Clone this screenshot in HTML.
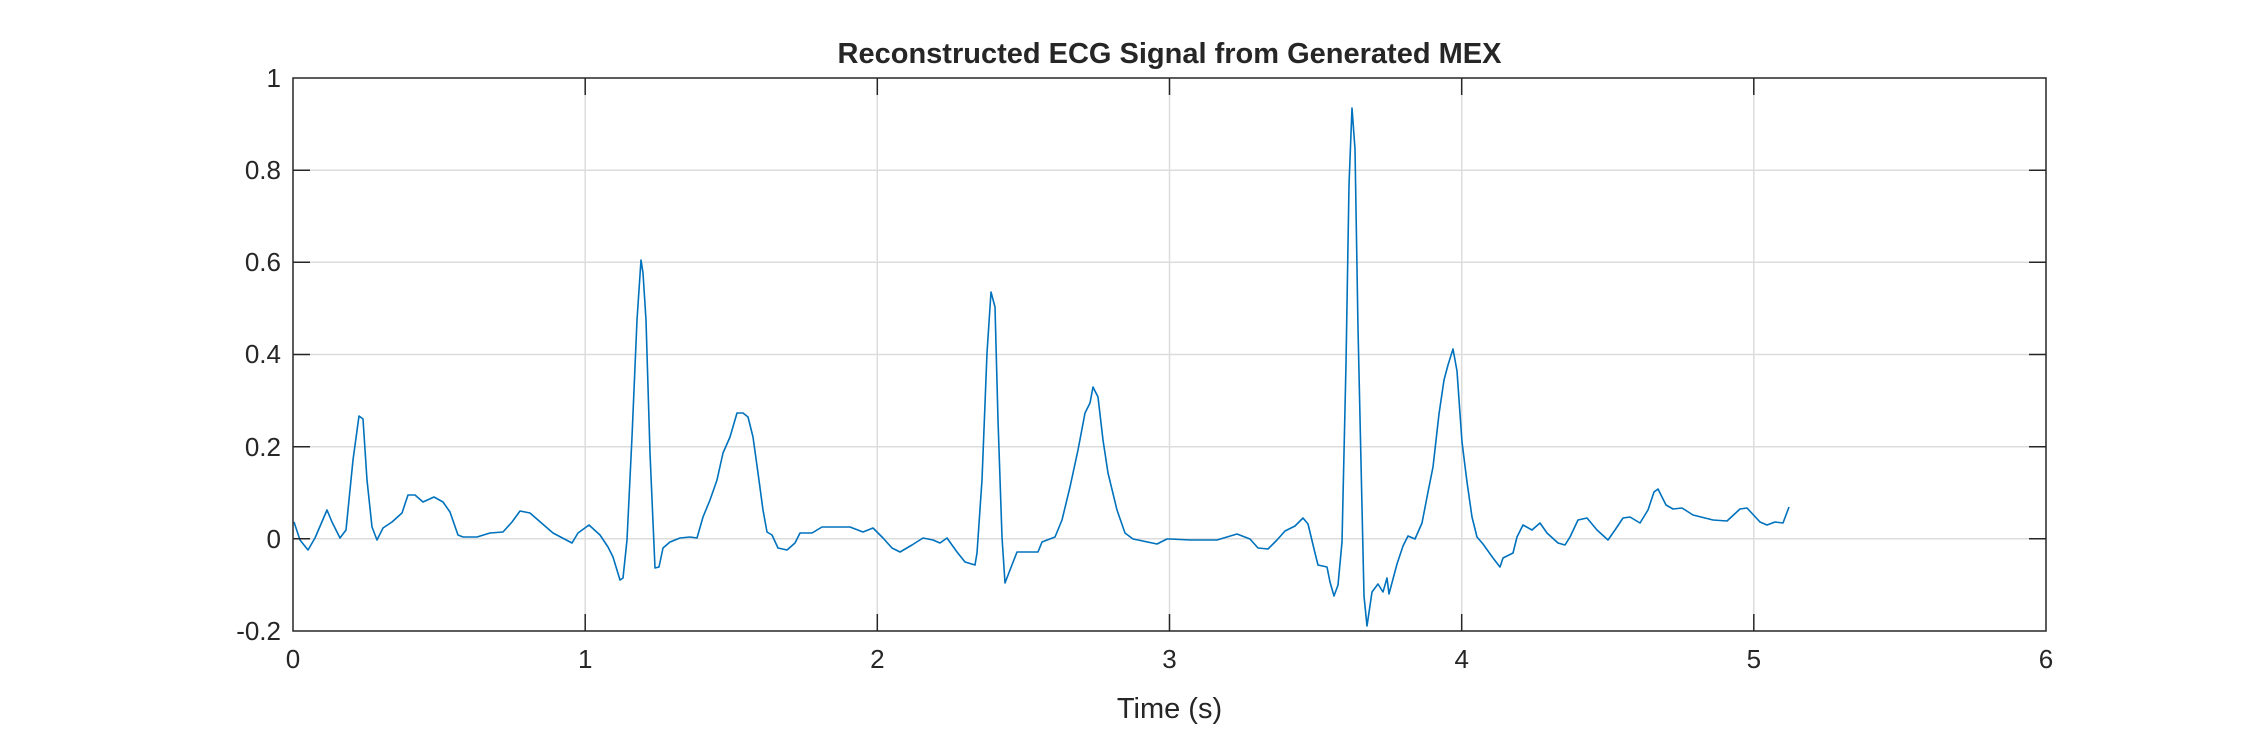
<!DOCTYPE html>
<html><head><meta charset="utf-8"><style>
html,body{margin:0;padding:0;background:#fff;}
svg{display:block;}
text{font-family:"Liberation Sans",Arial,sans-serif;fill:#262626;}
</style></head><body>
<svg width="2261" height="754" viewBox="0 0 2261 754" xmlns="http://www.w3.org/2000/svg">
<rect width="2261" height="754" fill="#fff"/>
<g stroke="#dcdcdc" stroke-width="1.5">
<line x1="585.2" y1="78" x2="585.2" y2="631"/>
<line x1="877.3" y1="78" x2="877.3" y2="631"/>
<line x1="1169.5" y1="78" x2="1169.5" y2="631"/>
<line x1="1461.7" y1="78" x2="1461.7" y2="631"/>
<line x1="1753.8" y1="78" x2="1753.8" y2="631"/>
<line x1="293" y1="170.2" x2="2046" y2="170.2"/>
<line x1="293" y1="262.3" x2="2046" y2="262.3"/>
<line x1="293" y1="354.5" x2="2046" y2="354.5"/>
<line x1="293" y1="446.7" x2="2046" y2="446.7"/>
<line x1="293" y1="538.8" x2="2046" y2="538.8"/>
</g>
<polyline fill="none" stroke="#0072BD" stroke-width="1.6" stroke-linejoin="round" points="
294,522 300,540 308,550 315,538 327,510 332,522 340,538 346,530 353,460 359,416 363,419 367,480 372,527 377,540 383,528 392,522 402,513 408,495 415,495 423,502 434,497 443,502 450,512 458,535 463,537 477,537 490,533 503,532 512,522 520,511 530,513 538,520 553,533 572,543 578,533 589,525 600,535 608,547 613,557 620,580 623,578 627,540 632,437 637,320 641,260 643,273 646,320 650,453 655,568 659,567 663,548 670,542 680,538 690,537 697,538 703,517 710,500 717,480 723,453 730,437 737,413 743,413 748,417 753,437 758,473 763,510 767,532 772,535 778,548 787,550 795,543 800,533 812,533 822,527 840,527 850,527 863,532 873,528 883,538 892,548 900,552 912,545 923,538 933,540 940,543 947,538 957,552 965,562 975,565 977,553 982,480 987,353 991,292 995,307 998,420 1002,537 1005,583 1010,570 1017,552 1030,552 1038,552 1042,542 1055,537 1062,520 1070,487 1078,450 1085,413 1090,403 1093,387 1098,397 1103,440 1108,473 1117,510 1125,533 1133,539 1143,541 1157,544 1167,539 1170,539 1190,540 1217,540 1237,534 1250,539 1258,548 1268,549 1277,540 1285,531 1295,526 1303,518 1308,524 1315,553 1318,565 1327,567 1330,582 1334,596 1338,585 1342,542 1346,364 1349,185 1352,108 1355,149 1358,328 1362,507 1364,596 1367,626 1372,592 1378,584 1383,592 1387,578 1389,594 1397,564 1403,546 1408,536 1415,539 1422,523 1428,492 1433,467 1439,414 1444,380 1448,365 1453,349 1457,371 1462,442 1467,482 1472,517 1477,537 1483,544 1493,558 1500,567 1503,558 1513,553 1517,537 1523,525 1532,530 1540,523 1547,533 1558,543 1565,545 1570,537 1578,520 1587,518 1597,530 1608,540 1615,530 1623,518 1630,517 1640,523 1648,510 1654,492 1658,489 1666,505 1673,509 1682,508 1693,515 1713,520 1727,521 1740,509 1747,508 1760,522 1767,525 1775,522 1783,523 1789,507"/>
<g stroke="#262626" stroke-width="1.5">
<rect x="293" y="78" width="1753" height="553" fill="none"/>
<line x1="585.2" y1="631" x2="585.2" y2="614"/><line x1="877.3" y1="631" x2="877.3" y2="614"/><line x1="1169.5" y1="631" x2="1169.5" y2="614"/><line x1="1461.7" y1="631" x2="1461.7" y2="614"/><line x1="1753.8" y1="631" x2="1753.8" y2="614"/>
<line x1="585.2" y1="78" x2="585.2" y2="95"/><line x1="877.3" y1="78" x2="877.3" y2="95"/><line x1="1169.5" y1="78" x2="1169.5" y2="95"/><line x1="1461.7" y1="78" x2="1461.7" y2="95"/><line x1="1753.8" y1="78" x2="1753.8" y2="95"/>
<line x1="293" y1="170.2" x2="310" y2="170.2"/><line x1="293" y1="262.3" x2="310" y2="262.3"/><line x1="293" y1="354.5" x2="310" y2="354.5"/><line x1="293" y1="446.7" x2="310" y2="446.7"/><line x1="293" y1="538.8" x2="310" y2="538.8"/>
<line x1="2046" y1="170.2" x2="2029" y2="170.2"/><line x1="2046" y1="262.3" x2="2029" y2="262.3"/><line x1="2046" y1="354.5" x2="2029" y2="354.5"/><line x1="2046" y1="446.7" x2="2029" y2="446.7"/><line x1="2046" y1="538.8" x2="2029" y2="538.8"/>
</g>
<g font-size="26" text-anchor="end">
<text x="281" y="87">1</text><text x="281" y="179">0.8</text><text x="281" y="271">0.6</text><text x="281" y="363">0.4</text><text x="281" y="456">0.2</text><text x="281" y="548">0</text><text x="281" y="640">-0.2</text>
</g>
<g font-size="26" text-anchor="middle">
<text x="293" y="668">0</text><text x="585.2" y="668">1</text><text x="877.3" y="668">2</text><text x="1169.5" y="668">3</text><text x="1461.7" y="668">4</text><text x="1753.8" y="668">5</text><text x="2046" y="668">6</text>
<text x="1169.5" y="718" font-size="29">Time (s)</text>
<text x="1169.5" y="63" font-size="29" font-weight="bold">Reconstructed ECG Signal from Generated MEX</text>
</g>
</svg>
</body></html>
